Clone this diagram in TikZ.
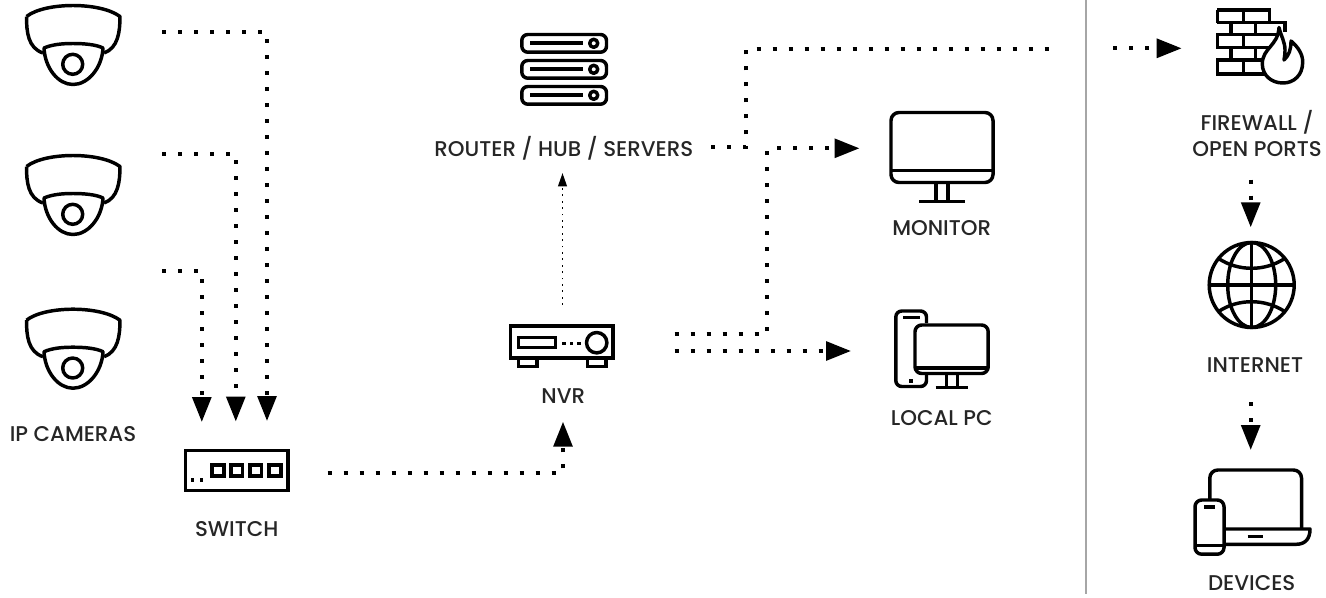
\documentclass[tikz,border=0pt]{standalone}
\usepackage{fontspec}
\setmainfont{Poppins}[UprightFont=* Medium]
\usetikzlibrary{arrows.meta}
\tikzset{
  icon/.style={draw=black,line width=2.6pt,line join=round},
  thinicon/.style={draw=black,line width=2.5pt},
  dots/.style={draw=black,line width=3pt,dash pattern=on 3pt off 9pt},
  tipped/.style={dots,-{Triangle[length=18.75pt,width=14pt]}},
  fine/.style={draw=black,line width=1.4pt,dash pattern=on 1.4pt off 3.4pt,-{Triangle[length=10pt,width=6.5pt]}},
  lbl/.style={font=\fontsize{16pt}{19.5pt}\selectfont,text=black!85,inner sep=0pt,anchor=center,align=center},
  dotmark/.style={fill=black,draw=none},
  camera/.pic={
    \draw[icon,fill=white] (26.5,16.5) .. controls (36,9) and (55,5.5) .. (73,5.5) .. controls (91,5.5) and (110,9) .. (120,16.5)
      .. controls (120,32) and (118,48) .. (104,53);
    \draw[icon] (26.5,16.5) .. controls (26.5,32) and (28,48) .. (43,53);
    \draw[icon,fill=white] (44,48) .. controls (52,44.5) and (62,43.5) .. (73,43.5) .. controls (84,43.5) and (96,44.5) .. (103,48)
      .. controls (102,68) and (88,84.5) .. (73,84.5) .. controls (58,84.5) and (45,68) .. (44,48) -- cycle;
    \draw[icon] (72.7,64.3) circle[radius=10];
  },
  serverbar/.pic={
    \draw[icon,rounded corners=4.5pt] (521.8,34.5) rectangle (606.5,52.2);
    \draw[icon] (530,43.2) -- (582.7,43.2);
    \draw[icon] (593.7,43.3) circle[radius=4];
  }
}
\begin{document}
\begin{tikzpicture}[x=0.75pt,y=-0.75pt]
\useasboundingbox (0,0) rectangle (1326,597);
% divider
\draw[draw=black!35,line width=1.9pt] (1086,0) -- (1086,593.5);

% cameras
\pic at (0,0) {camera};
\pic at (0,150) {camera};
\pic at (0,303.7) {camera};
\node[lbl] (lcams) at (73,434) {IP CAMERAS};

% switch
\draw[icon,line join=miter] (185.3,450.3) rectangle (288,490.7);
\foreach \xa in {212.2,231,250,269.2}{
  \draw[icon,line join=miter] (\xa,465) rectangle ++(11.6,11);
}
\fill[dotmark] (190.7,478) rectangle (194.3,481.7);
\fill[dotmark] (199.5,478) rectangle (203.2,481.7);
\node[lbl] (lswitch) at (236.7,529) {SWITCH};

% servers
\pic at (0,0) {serverbar};
\pic at (0,26) {serverbar};
\pic at (0,52) {serverbar};
\node[lbl] (lrouter) at (563.8,148) {ROUTER / HUB / SERVERS};

% NVR
\draw[icon,line join=miter] (510.3,326) rectangle (613,358);
\draw[icon,line join=miter] (518.5,337.5) rectangle (555.5,347.5);
\fill[dotmark] (562.3,341.5) rectangle (566,345);
\fill[dotmark] (569.5,341.5) rectangle (573.2,345);
\fill[dotmark] (577,341.5) rectangle (580.7,345);
\draw[icon] (596.7,342.7) circle[radius=10.2];
\draw[icon,line join=miter] (518.5,358) -- (518.5,366.5) -- (537.2,366.5) -- (537.2,358);
\draw[icon,line join=miter] (587.5,358) -- (587.5,366.5) -- (605.9,366.5) -- (605.9,358);
\node[lbl] (lnvr) at (563.3,396) {NVR};

% monitor
\draw[icon,rounded corners=6pt] (891,112.5) rectangle (993,182.5);
\draw[icon] (891,170.7) -- (993,170.7);
\draw[icon] (936,182.5) -- (936,201.7);
\draw[icon] (948,182.5) -- (948,201.7);
\draw[icon] (919.3,201.7) -- (965,201.7);
\node[lbl] (lmonitor) at (941.7,227.7) {MONITOR};

% local PC
\draw[icon,rounded corners=4.5pt] (926.5,323) -- (926.5,311) -- (895.8,311) -- (895.8,386.5) -- (926.5,386.5) -- (926.5,375);
\draw[icon,rounded corners=5pt] (915,325) rectangle (988.2,373.5);
\draw[icon] (915,367.8) -- (988.2,367.8);
\draw[icon] (946.7,373.5) -- (946.7,387.3);
\draw[icon] (957.3,373.5) -- (957.3,387.3);
\draw[icon] (935.7,387.3) -- (967.7,387.3);
\draw[icon] (903,317.7) -- (920,317.7);
\fill[dotmark] (909,378.7) rectangle (913,382.7);
\node[lbl] (lpc) at (941.7,418) {LOCAL PC};

% firewall
\draw[thinicon,line join=miter] (1217.3,10) -- (1269.3,10) -- (1269.3,22.7);
\draw[thinicon,line join=miter] (1217.3,10) -- (1217.3,22.7);
\draw[thinicon] (1217.3,22.7) -- (1285,22.7) -- (1285,32);
\draw[thinicon] (1243.3,10) -- (1243.3,22.7);
\draw[thinicon] (1231,22.7) -- (1231,34.3);
\draw[thinicon] (1255.7,22.7) -- (1255.7,34.3);
\draw[thinicon,line join=miter] (1277,34.3) -- (1217.3,34.3) -- (1217.3,47.3) -- (1272,47.3);
\draw[thinicon] (1243.3,34.3) -- (1243.3,47.3);
\draw[thinicon] (1231,47.3) -- (1231,60);
\draw[thinicon] (1255.7,47.3) -- (1255.7,60);
\draw[thinicon,line join=miter] (1265,60) -- (1217.3,60) -- (1217.3,74) -- (1265,74);
\draw[thinicon] (1243.3,60) -- (1243.3,74);
\draw[icon,fill=white] (1279,27.5) .. controls (1281,36) and (1285,42) .. (1285,50)
  .. controls (1285,54) and (1284.5,57) .. (1284,60)
  .. controls (1289,55) and (1291,50) .. (1291,41)
  .. controls (1298,47) and (1302.7,54) .. (1302.7,62)
  .. controls (1302.7,75) and (1294,83) .. (1283,83)
  .. controls (1271,83) and (1262.3,75) .. (1262.3,64)
  .. controls (1262.3,48) and (1278,46) .. (1279,27.5) -- cycle;
\node[lbl] (lfire) at (1257,133) {FIREWALL /\\OPEN PORTS};

% globe
\draw[icon] (1251.7,285) circle[radius=42.5];
\draw[icon] (1251.7,242.5) -- (1251.7,327.5);
\draw[icon] (1209.2,285) -- (1294.2,285);
\draw[icon] (1251.7,285) circle[x radius=24,y radius=42.5];
\draw[icon] (1218.3,258.3) .. controls (1228,265) and (1240,268.3) .. (1251.7,268.3) .. controls (1263,268.3) and (1275,265) .. (1285,258.3);
\draw[icon] (1218.3,311.7) .. controls (1228,305) and (1240,301.7) .. (1251.7,301.7) .. controls (1263,301.7) and (1275,305) .. (1285,311.7);
\node[lbl] (lnet) at (1255,365) {INTERNET};

% devices
\draw[icon,rounded corners=6pt] (1209.8,499) -- (1209.8,470) -- (1301.5,470) -- (1301.5,529);
\draw[icon] (1226,529) -- (1310,529) .. controls (1310,538) and (1306,544.3) .. (1296,544.3) -- (1226,544.3);
\draw[icon] (1247.7,536.7) -- (1262.7,536.7);
\draw[icon,rounded corners=5pt] (1195,500) rectangle (1224,554.2);
\draw[icon] (1195,545.7) -- (1224,545.7);
\draw[icon] (1204,507) -- (1215,507);
\node[lbl] (ldev) at (1251.7,583) {DEVICES};

% connector ends
\coordinate (c1) at (162,32);   \coordinate (c1k) at (267,32);   \coordinate (s1) at (267,421);
\coordinate (c2) at (162,154);  \coordinate (c2k) at (235.8,154);\coordinate (s2) at (235.8,421.5);
\coordinate (c3) at (162,271);  \coordinate (c3k) at (201.8,271);\coordinate (s3) at (201.8,422);
\coordinate (sw) at (327.7,473);\coordinate (swk) at (563,473);  \coordinate (nv) at (563,421.7);
\coordinate (nu) at (562.5,305);\coordinate (ru) at (562.5,173);
\coordinate (ro) at (711.3,147.3);\coordinate (rk) at (746.3,147.3);\coordinate (rk2) at (746.3,48.7);\coordinate (re) at (1049,48.7);
\coordinate (fs) at (1113,48.3);\coordinate (fe) at (1181.7,48.3);
\coordinate (n1) at (674.7,334);\coordinate (n1k) at (767.3,334);\coordinate (n1l) at (767.3,148.3);\coordinate (mo) at (859.5,148.3);
\coordinate (n2) at (674.7,351);\coordinate (pc) at (851,351);
\coordinate (f1) at (1250.7,179.7);\coordinate (f2) at (1250.7,227.3);
\coordinate (d1) at (1250.7,402);\coordinate (d2) at (1250.7,450);

% connectors
\draw[tipped] (c1) -- (c1k) -- (s1);
\draw[tipped] (c2) -- (c2k) -- (s2);
\draw[tipped] (c3) -- (c3k) -- (s3);
\draw[tipped] (sw) -- (swk) -- (nv);
\draw[fine] (nu) -- (ru);
\draw[dots] (ro) -- (rk) -- (rk2) -- (re);
\draw[tipped] (fs) -- (fe);
\draw[tipped] (n1) -- (n1k) -- (n1l) -- (mo);
\draw[tipped] (n2) -- (pc);
\draw[tipped] (f1) -- (f2);
\draw[tipped] (d1) -- (d2);
\end{tikzpicture}
\end{document}
